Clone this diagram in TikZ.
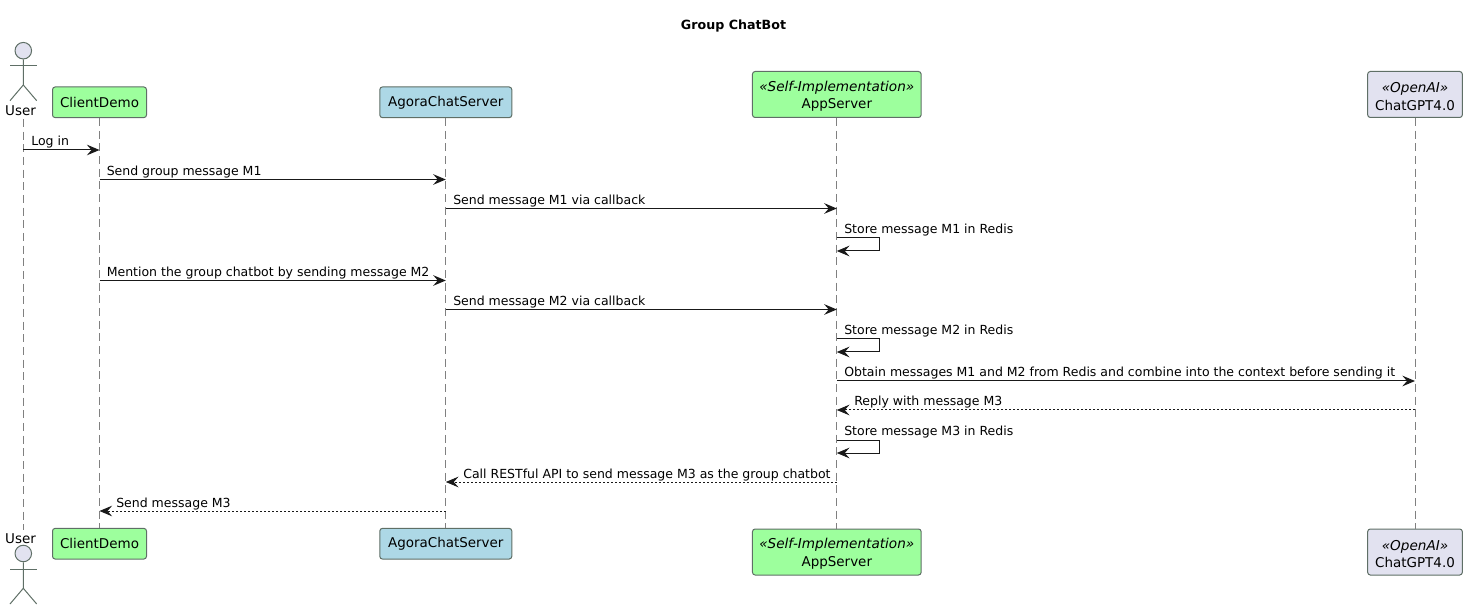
\documentclass[tikz,border=0pt]{standalone}
\usepackage{fontspec}
\setmainfont{DejaVu Sans}
\usetikzlibrary{arrows.meta}
\definecolor{palegreen}{HTML}{9DFF9D}
\definecolor{lightblue}{HTML}{ADD8E6}
\definecolor{lavender}{HTML}{E2E2F0}
\definecolor{edgegray}{HTML}{5F6F66}
\newcommand{\stereo}[1]{\rule{0pt}{10.4pt}{\itshape\fontsize{10.2}{12}\selectfont «#1»}}
\begin{document}
\begin{tikzpicture}[x=0.75pt,y=-0.75pt,
  part/.style={draw=edgegray, line width=0.75pt, rounded corners=2pt, align=center, inner sep=0pt, font=\fontsize{10.1}{13}\selectfont},
  lifeline/.style={draw=gray, line width=0.6pt, dash pattern=on 6pt off 3.5pt},
  msg/.style={draw=black!90, line width=0.75pt, -{Stealth[length=9.5pt,width=8pt,inset=3.5pt]}},
  reply/.style={msg, dash pattern=on 1.5pt off 1.5pt},
  lbl/.style={anchor=base west, inner sep=0pt, font=\fontsize{9.38}{11}\selectfont},
  stick/.style={draw=edgegray, line width=0.75pt}]
\useasboundingbox (0,0) rectangle (1467,609);
\node[anchor=center, inner sep=0pt, font=\bfseries\fontsize{9.5}{11}\selectfont] (title) at (733.5,26) {Group ChatBot};

\node[inner sep=0pt, font=\fontsize{10.1}{13}\selectfont] (user) at (20.5,111) {User};
\node[part, fill=palegreen, minimum width=70.5pt, minimum height=23pt] (client) at (99.5,102.3) {ClientDemo};
\node[part, fill=lightblue, minimum width=99pt, minimum height=23pt] (agora) at (445.8,102.3) {AgoraChatServer};
\node[part, fill=palegreen, minimum width=126.5pt, minimum height=34.5pt] (app) at (836.8,94.5) {\stereo{Self-Implementation}\\AppServer};
\node[part, fill=lavender, minimum width=71pt, minimum height=34.5pt] (gpt) at (1415,94.5) {\stereo{OpenAI}\\ChatGPT4.0};

\node[inner sep=0pt, font=\fontsize{10.1}{13}\selectfont] (userB) at (20.5,538.5) {User};
\node[part, fill=palegreen, minimum width=70.5pt, minimum height=23pt] (clientB) at (99.5,543.7) {ClientDemo};
\node[part, fill=lightblue, minimum width=99pt, minimum height=23pt] (agoraB) at (445.8,543.7) {AgoraChatServer};
\node[part, fill=palegreen, minimum width=126.5pt, minimum height=34.5pt] (appB) at (836.8,552) {\stereo{Self-Implementation}\\AppServer};
\node[part, fill=lavender, minimum width=71pt, minimum height=34.5pt] (gptB) at (1415,552) {\stereo{OpenAI}\\ChatGPT4.0};

% actors
\node[circle, draw=edgegray, fill=lavender, line width=0.75pt, minimum size=12.4pt, inner sep=0pt] (head) at (23.3,50.7) {};
\draw[stick] (head.south) -- (23.3,85) -- (10,100.7);
\draw[stick] (23.3,85) -- (36.7,100.7);
\draw[stick] (10,66) -- (36.7,66);
\node[circle, draw=edgegray, fill=lavender, line width=0.75pt, minimum size=12.4pt, inner sep=0pt] (headB) at (23.3,553.5) {};
\draw[stick] (headB.south) -- (23.3,588.3) -- (10,604);
\draw[stick] (23.3,588.3) -- (36.7,604);
\draw[stick] (10,569.3) -- (36.7,569.3);

% lifelines
\coordinate (userTop) at (23.3,119);
\coordinate (userBot) at (23.3,530);
\draw[lifeline] (userTop) -- (userBot);
\draw[lifeline] (client) -- (clientB);
\draw[lifeline] (agora) -- (agoraB);
\draw[lifeline] (app) -- (appB);
\draw[lifeline] (gpt) -- (gptB);

% messages
\coordinate (m1) at (0,150);
\coordinate (m2) at (0,179.5);
\coordinate (m3) at (0,208.5);
\coordinate (m4) at (0,238);
\coordinate (m4b) at (0,251);
\coordinate (m5) at (0,280.5);
\coordinate (m6) at (0,309.5);
\coordinate (m7) at (0,339);
\coordinate (m7b) at (0,352);
\coordinate (m8) at (0,381);
\coordinate (m9) at (0,410);
\coordinate (m10) at (0,440);
\coordinate (m10b) at (0,453);
\coordinate (m11) at (0,482);
\coordinate (m12) at (0,511);

\draw[msg] (head |- m1) -- (client |- m1);
\draw[msg] (client |- m2) -- (agora |- m2);
\draw[msg] (agora |- m3) -- (app |- m3);
\draw[msg] (app |- m4) -- ++(43,0) -- ++(0,13) -- (app |- m4b);
\draw[msg] (client |- m5) -- (agora |- m5);
\draw[msg] (agora |- m6) -- (app |- m6);
\draw[msg] (app |- m7) -- ++(43,0) -- ++(0,13) -- (app |- m7b);
\draw[msg] (app |- m8) -- (gpt |- m8);
\draw[reply] (gpt |- m9) -- (app |- m9);
\draw[msg] (app |- m10) -- ++(43,0) -- ++(0,13) -- (app |- m10b);
\draw[reply] (app |- m11) -- (agora |- m11);
\draw[reply] (agora |- m12) -- (client |- m12);

\node[lbl] (t1) at (31,146) {Log in};
\node[lbl] (t2) at (106.5,175.5) {Send group message M1};
\node[lbl] (t3) at (453,204.5) {Send message M1 via callback};
\node[lbl] (t4) at (844,233.5) {Store message M1 in Redis};
\node[lbl] (t5) at (106.5,276.5) {Mention the group chatbot by sending message M2};
\node[lbl] (t6) at (453,305.5) {Send message M2 via callback};
\node[lbl] (t7) at (844,334.5) {Store message M2 in Redis};
\node[lbl] (t8) at (844,377) {Obtain messages M1 and M2 from Redis and combine into the context before sending it};
\node[lbl] (t9) at (854,406) {Reply with message M3};
\node[lbl] (t10) at (844,435.5) {Store message M3 in Redis};
\node[lbl] (t11) at (463,478) {Call RESTful API to send message M3 as the group chatbot};
\node[lbl] (t12) at (116,507) {Send message M3};
\end{tikzpicture}
\end{document}
